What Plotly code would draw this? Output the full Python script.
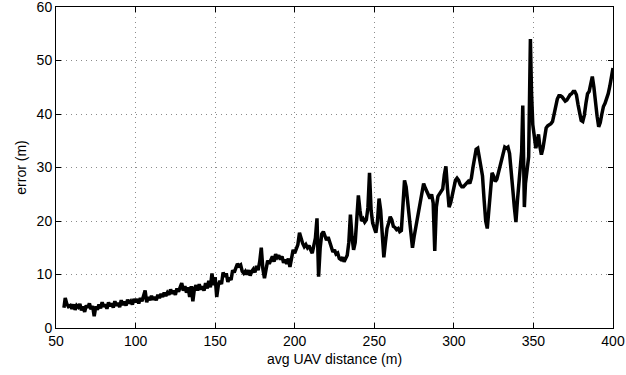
import plotly.graph_objects as go

dist = [55, 55.8, 56.8, 57.8, 59, 60, 61, 62, 63, 64, 65, 66, 67, 68, 69, 70, 71, 72, 73, 74, 75, 76, 77, 78, 79, 80,
        81, 82, 83, 84, 85, 86, 87, 88, 89, 90, 91, 92, 93, 94, 95, 96, 97, 98, 99, 100,
        101, 102, 103, 104, 105, 106, 107, 108, 109, 110, 111, 112, 113, 114, 115, 116, 117, 118, 119, 120,
        121, 122, 123, 124, 125, 126, 127, 128, 129, 130, 131, 132, 133, 134, 135, 136, 137, 138, 139, 140,
        141, 142, 143, 144, 145, 146, 147, 148, 149, 150, 151, 152, 153, 154, 155, 156, 157, 158, 159, 160,
        161, 162, 163, 164, 165, 166, 167, 168, 169, 170, 171, 172, 173, 174, 175, 176, 177, 178, 179, 180,
        181, 182, 183, 184, 185, 186, 187, 188, 189, 190, 191, 192, 193, 194, 195, 196, 197, 198, 199, 200,
        201, 202, 203, 204, 205, 206, 207, 208, 209, 210, 211, 212, 213, 214, 215, 216, 217, 218, 219, 220,
        221, 222, 223, 224, 225, 226, 227, 228, 229, 230, 231, 232, 233, 234, 235, 236, 237, 238, 239, 240,
        241, 242, 243, 244, 245, 246, 247, 248, 249, 250, 251, 252, 253, 254, 255, 256, 257, 258, 259, 260,
        261, 262, 263, 264, 265, 266, 267, 268, 269, 270, 271, 272, 273, 274, 275, 276, 277, 278, 279, 280,
        281, 282, 283, 284, 285, 286, 287, 288, 289, 290, 291, 292, 293, 294, 295, 296, 297, 298, 299, 300,
        301, 302, 303, 304, 305, 306, 307, 308, 309, 310, 311, 312, 313, 314, 315, 316, 317, 318, 319, 320,
        321, 322, 323, 324, 325, 326, 327, 328, 329, 330, 331, 332, 333, 334, 335, 336, 337, 338, 339, 340,
        341, 342, 342.6, 343.3, 343.8, 344.3, 345, 346, 347, 347.6, 348.1, 348.8, 349.6, 350.5, 351.5, 352.5,
        353.2, 354, 355, 356, 357, 358, 359, 360, 361, 362, 363, 364, 365, 366, 367, 368, 369, 370,
        371, 372, 373, 374, 375, 376, 377, 378, 379, 380, 381, 382, 383, 384, 385, 386, 387, 388, 389, 390,
        391, 392, 393, 394, 395, 396, 397, 398, 399, 400]

error = [3.8, 5.6, 4.5, 4.0, 4.2, 3.6, 4.4, 3.4, 4.2, 3.9, 4.5, 3.3, 4.0, 3.0, 4.2, 3.8, 4.6, 3.5, 4.1, 2.2, 4.0, 3.4, 4.4, 3.7, 4.8, 4.0,
         4.4, 3.6, 4.8, 4.1, 4.6, 3.8, 5.0, 4.2, 4.7, 3.9, 5.2, 4.3, 4.9, 4.2, 5.3, 4.6, 5.0, 4.4, 5.4, 4.8,
         5.4, 4.6, 5.6, 5.0, 6.0, 7.0, 4.8, 5.8, 5.2, 6.0, 5.3, 5.8, 5.2, 6.2, 5.6, 6.4, 5.8, 6.6, 6.0, 6.6,
         6.2, 7.2, 6.4, 7.0, 6.2, 7.4, 6.8, 7.6, 8.4, 7.0, 7.8, 6.6, 7.6, 5.8, 7.8, 5.0, 7.4, 8.0, 7.0, 8.2,
         7.2, 7.8, 7.0, 8.4, 7.4, 8.8, 7.6, 10.2, 8.0, 9.5, 5.8, 8.0, 8.8, 8.2, 10.4, 9.6, 10.2, 8.6, 9.4, 9.0,
         10.8, 10.4, 11.2, 12.0, 11.6, 11.8, 10.6, 10.2, 10.6, 10.0, 10.8, 9.8, 10.6, 11.0, 10.4, 11.6, 10.8, 12.4, 15.0, 11.0,
         9.3, 11.4, 12.6, 12.0, 12.8, 13.4, 12.4, 13.8, 13.2, 13.6, 12.8, 13.4, 12.2, 12.8, 12.0, 13.0, 11.4, 13.4, 14.6, 14.0,
         14.8, 15.6, 17.8, 16.6, 15.8, 15.2, 15.6, 15.0, 15.4, 14.6, 14.0, 15.4, 16.8, 20.5, 9.6, 15.0, 17.6, 18.0, 17.2, 16.4,
         17.0, 16.2, 15.0, 14.2, 14.6, 13.8, 14.0, 13.0, 12.8, 13.2, 12.4, 13.0, 13.6, 16.0, 21.2, 17.0, 14.6, 16.0, 21.0, 24.8,
         22.0, 20.0, 20.4, 19.8, 20.2, 22.5, 29.0, 22.0, 19.6, 18.6, 17.8, 20.0, 24.2, 22.0, 17.0, 13.2, 16.0, 18.6, 19.6, 20.8,
         20.2, 19.0, 18.8, 18.4, 18.6, 18.0, 18.2, 22.0, 27.6, 26.4, 23.6, 21.0, 16.8, 15.0, 17.0, 18.8, 20.2, 22.0, 23.8, 25.4,
         27.0, 26.2, 25.6, 24.8, 24.2, 25.0, 23.4, 14.4, 22.6, 24.6, 25.0, 25.4, 26.0, 28.6, 30.2, 26.0, 22.6, 23.4, 25.0, 26.4,
         27.6, 28.0, 27.6, 26.8, 26.4, 26.4, 26.8, 27.2, 27.4, 27.0, 28.0, 30.0, 32.0, 33.4, 33.6, 32.0, 30.0, 28.4, 24.0, 20.0,
         18.6, 22.0, 26.0, 29.0, 28.4, 27.4, 27.8, 29.0, 30.4, 32.0, 33.2, 33.8, 33.6, 33.8, 32.6, 30.0, 26.0, 22.6, 19.8, 24.0,
         28.0, 30.4, 33.0, 41.6, 32.0, 22.6, 27.0, 30.4, 32.0, 44.0, 54.0, 44.0, 38.0, 36.0, 33.6, 35.0,
         36.2, 34.0, 32.4, 33.6, 35.6, 37.4, 37.8, 38.0, 38.2, 38.6, 40.0, 41.6, 42.8, 43.4, 43.4, 43.2, 42.8, 42.4,
         42.6, 43.2, 43.6, 43.8, 44.2, 44.2, 43.6, 41.8, 40.0, 38.8, 38.6, 39.8, 42.0, 43.8, 44.2, 45.6, 47.0, 45.0, 41.6, 39.6,
         37.6, 38.4, 40.0, 41.4, 42.0, 42.8, 43.8, 45.2, 47.0, 48.6]

x_ticks = [50, 100, 150, 200, 250, 300, 350, 400]
y_ticks = [0, 10, 20, 30, 40, 50, 60]

fig = go.Figure()
fig.add_trace(go.Scatter(x=dist, y=error, mode="lines",
                         line=dict(color="black", width=3.5), showlegend=False, cliponaxis=False))

font = dict(family="Liberation Sans, Arial, sans-serif", size=14, color="black")
axis_common = dict(showline=True, linecolor="black", linewidth=1, mirror="ticks",
                   ticks="inside", ticklen=5, tickcolor="black", tickwidth=1,
                   showgrid=True, gridcolor="#8c8c8c", griddash="1px,4px", gridwidth=1,
                   zeroline=False, tickfont=font, automargin=False,
                   ticklabeloverflow="allow")

fig.update_xaxes(range=[50, 400], tickvals=x_ticks, ticktext=[str(v) for v in x_ticks],
                 title=dict(text="avg UAV distance (m)", font=font, standoff=6), **axis_common)
fig.update_yaxes(range=[0, 60], tickvals=y_ticks, ticktext=[str(v) for v in y_ticks],
                 title=dict(text="error (m)", font=font, standoff=6), **axis_common)

fig.update_layout(width=626, height=375, plot_bgcolor="white", paper_bgcolor="white",
                  margin=dict(l=56, r=13, t=7, b=47), font=font)

fig.write_html("out.html", config={"displayModeBar": False},
               post_script="document.body.style.margin='0';")
